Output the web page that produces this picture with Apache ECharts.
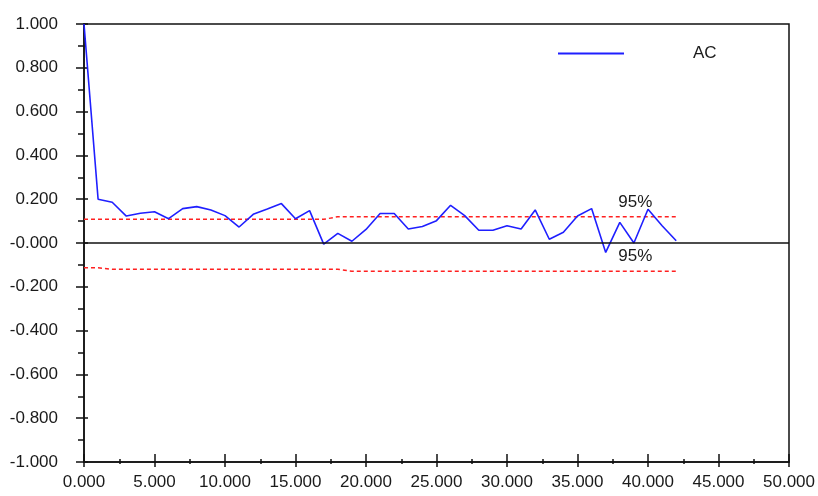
<!DOCTYPE html>
<html>
<head>
<meta charset="utf-8">
<script src="https://cdn.jsdelivr.net/npm/echarts@6/dist/echarts.min.js"></script>
<style>
  html, body { margin: 0; padding: 0; background: #fff; }
  #chart { width: 818px; height: 496px; }
</style>
</head>
<body>
<div id="chart"></div>
<script>
// ---- data ----
const lags = [0,1,2,3,4,5,6,7,8,9,10,11,12,13,14,15,16,17,18,19,20,21,22,23,24,25,26,27,28,29,30,31,32,33,34,35,36,37,38,39,40,41,42];
const acValues = [1.000,0.200,0.186,0.123,0.136,0.143,0.111,0.157,0.166,0.151,0.125,0.073,0.131,0.155,0.180,0.111,0.148,-0.005,0.044,0.008,0.062,0.135,0.135,0.064,0.075,0.102,0.172,0.125,0.058,0.058,0.079,0.064,0.151,0.017,0.049,0.123,0.157,-0.043,0.094,0.000,0.154,0.079,0.010];
const upperBand = [0.108,0.108,0.108,0.108,0.108,0.108,0.108,0.108,0.108,0.108,0.108,0.108,0.108,0.108,0.108,0.108,0.108,0.108,0.120,0.120,0.120,0.120,0.120,0.120,0.120,0.120,0.120,0.120,0.120,0.120,0.120,0.120,0.120,0.120,0.120,0.120,0.120,0.120,0.120,0.120,0.120,0.120,0.120];
const lowerBand = [-0.113,-0.113,-0.120,-0.120,-0.120,-0.120,-0.120,-0.120,-0.120,-0.120,-0.120,-0.120,-0.120,-0.120,-0.120,-0.120,-0.120,-0.120,-0.120,-0.129,-0.129,-0.129,-0.129,-0.129,-0.129,-0.129,-0.129,-0.129,-0.129,-0.129,-0.129,-0.129,-0.129,-0.129,-0.129,-0.129,-0.129,-0.129,-0.129,-0.129,-0.129,-0.129,-0.129];
const xTickLabels = ['0.000','5.000','10.000','15.000','20.000','25.000','30.000','35.000','40.000','45.000','50.000'];
const yTickLabels = ['-1.000','-0.800','-0.600','-0.400','-0.200','-0.000','0.200','0.400','0.600','0.800','1.000'];
const seriesName = 'AC';
const bandLabel = '95%';
const bandLabelLag = 39.1;

// ---- chart ----
const FONT = '"Liberation Sans Narrow", "Liberation Sans", Arial, sans-serif';
const TXT = '#1a1a1a';
const chart = echarts.init(document.getElementById('chart'), null, { renderer: 'canvas' });

const xLabelFmt = v => xTickLabels[Math.round(v / 5)] ?? '';
const yLabelFmt = v => yTickLabels[Math.round((v + 1) / 0.2)] ?? '';

function pairs(vals) { return lags.map((l, i) => [l, vals[i]]); }

const option = {
  animation: false,
  backgroundColor: '#fff',
  grid: {
    left: 84, right: 26, top: 24, bottom: 34,
    show: true, borderColor: '#111', borderWidth: 1.5, backgroundColor: 'transparent'
  },
  legend: {
    data: [seriesName],
    left: 553, top: 40,
    icon: 'rect', itemWidth: 66, itemHeight: 2,
    textStyle: { fontFamily: FONT, fontSize: 17, color: TXT, padding: [0, 0, 0, 64] }
  },
  xAxis: [{
    type: 'value', min: 0, max: 50, interval: 5,
    axisLine: { show: true, onZero: false, lineStyle: { color: '#111', width: 1.5 } },
    axisTick: { show: true, length: 5, lineStyle: { color: '#111', width: 1.5 } },
    minorTick: { show: true, splitNumber: 2, length: 2, lineStyle: { color: '#111', width: 1.5 } },
    splitLine: { show: false },
    axisLabel: { formatter: xLabelFmt, margin: 12, fontFamily: FONT, fontSize: 17, color: TXT }
  }, {
    type: 'value', min: 0, max: 50, interval: 5, position: 'bottom',
    axisLine: { show: false, onZero: false },
    axisTick: { show: true, inside: true, length: 8, lineStyle: { color: '#111', width: 1.5 } },
    minorTick: { show: true, splitNumber: 2, length: 3, lineStyle: { color: '#111', width: 1.5 } },
    splitLine: { show: false },
    axisLabel: { show: false }
  }],
  yAxis: [{
    type: 'value', min: -1, max: 1, interval: 0.2,
    axisLine: { show: true, onZero: false, lineStyle: { color: '#111', width: 1.5 } },
    axisTick: { show: true, length: 8, lineStyle: { color: '#111', width: 1.5 } },
    minorTick: { show: true, splitNumber: 2, length: 6, lineStyle: { color: '#111', width: 1.5 } },
    splitLine: { show: false },
    axisLabel: { formatter: yLabelFmt, margin: 26, fontFamily: FONT, fontSize: 17, color: TXT }
  }, {
    type: 'value', min: -1, max: 1, interval: 0.2, position: 'left',
    axisLine: { show: false, onZero: false },
    axisTick: { show: true, inside: true, length: 4, lineStyle: { color: '#111', width: 1.5 } },
    splitLine: { show: false },
    axisLabel: { show: false }
  }],
  series: [
    {
      name: 'upper', type: 'line', data: pairs(upperBand),
      showSymbol: false, symbol: 'none', silent: true, z: 2,
      lineStyle: { color: '#ff2020', width: 1.5, type: [4, 3] },
      markPoint: {
        symbol: 'circle', symbolSize: 0, silent: true,
        label: { show: true, formatter: bandLabel, position: 'top', distance: 6, fontFamily: FONT, fontSize: 17, color: TXT },
        data: [{ coord: [bandLabelLag, upperBand[upperBand.length - 1]] }]
      }
    },
    {
      name: 'lower', type: 'line', data: pairs(lowerBand),
      showSymbol: false, symbol: 'none', silent: true, z: 2,
      lineStyle: { color: '#ff2020', width: 1.5, type: [4, 3] },
      markPoint: {
        symbol: 'circle', symbolSize: 0, silent: true,
        label: { show: true, formatter: bandLabel, position: 'top', distance: 6, fontFamily: FONT, fontSize: 17, color: TXT },
        data: [{ coord: [bandLabelLag, lowerBand[lowerBand.length - 1]] }]
      }
    },
    {
      name: seriesName, type: 'line', data: pairs(acValues),
      showSymbol: false, symbol: 'none', z: 3,
      color: '#1f1fff',
      lineStyle: { color: '#1f1fff', width: 1.6 },
      markLine: {
        silent: true, symbol: ['none', 'none'], z: 4,
        label: { show: false },
        lineStyle: { color: '#111', width: 1.5, type: 'solid' },
        data: [{ yAxis: 0 }]
      }
    }
  ]
};
chart.setOption(option);
</script>
</body>
</html>
